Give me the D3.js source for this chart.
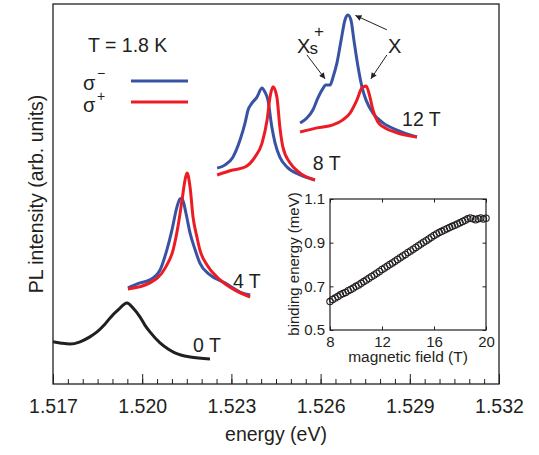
<!DOCTYPE html>
<html>
<head>
<meta charset="utf-8">
<script src="https://cdn.jsdelivr.net/npm/d3@7"></script>
<style>
  body { margin: 0; background: #fff; }
  svg { display: block; font-family: "Liberation Sans", Arial, Helvetica, sans-serif; }
  text { fill: #231f20; }
</style>
</head>
<body>
<svg id="chart" width="539" height="455"></svg>
<script>
// energy (eV) / intensity (arb. units, offset per field)
const e0T = [1.51700, 1.51724, 1.51757, 1.51791, 1.51824, 1.51848, 1.51872, 1.51892, 1.51919, 1.51949, 1.51969, 1.51993, 1.52009, 1.52026, 1.52060, 1.52087, 1.52110, 1.52161, 1.52228];
const i0T = [11.1, 10.8, 10.5, 11.1, 12.4, 13.7, 15.5, 17.4, 19.5, 21.3, 20.0, 17.6, 15.5, 13.7, 10.8, 9.2, 8.2, 7.1, 6.6];

const e4Tminus = [1.51952, 1.51993, 1.52026, 1.52060, 1.52083, 1.52100, 1.52117, 1.52127, 1.52134, 1.52147, 1.52161, 1.52178, 1.52194, 1.52228, 1.52278, 1.52329, 1.52363];
const i4Tminus = [25.3, 26.6, 27.4, 30.0, 35.3, 40.5, 46.6, 48.7, 48.9, 45.0, 39.7, 35.3, 31.8, 28.7, 26.6, 24.2, 23.4];
const e4Tplus = [1.51952, 1.52026, 1.52077, 1.52104, 1.52120, 1.52134, 1.52144, 1.52151, 1.52161, 1.52171, 1.52184, 1.52194, 1.52218, 1.52262, 1.52312, 1.52363];
const i4Tplus = [25.0, 26.6, 30.5, 35.3, 41.3, 48.4, 53.7, 55.5, 51.8, 43.9, 38.7, 35.3, 31.3, 27.4, 24.7, 22.9];

const e8Tminus = [1.52252, 1.52278, 1.52305, 1.52329, 1.52346, 1.52356, 1.52369, 1.52386, 1.52403, 1.52413, 1.52423, 1.52436, 1.52447, 1.52463, 1.52487, 1.52531, 1.52581];
const i8Tminus = [56.8, 57.6, 59.7, 64.2, 68.7, 72.1, 73.9, 75.5, 77.9, 76.8, 74.7, 67.6, 63.4, 59.7, 57.1, 55.0, 53.7];
const e8Tplus = [1.52252, 1.52305, 1.52346, 1.52379, 1.52403, 1.52420, 1.52430, 1.52440, 1.52453, 1.52463, 1.52473, 1.52497, 1.52531, 1.52581];
const i8Tplus = [55.0, 56.3, 57.1, 59.7, 63.4, 69.5, 75.5, 78.2, 75.5, 67.6, 62.4, 58.2, 55.5, 53.7];

const e12Tminus = [1.52531, 1.52554, 1.52574, 1.52591, 1.52605, 1.52618, 1.52632, 1.52642, 1.52655, 1.52669, 1.52682, 1.52692, 1.52702, 1.52712, 1.52726, 1.52739, 1.52753, 1.52776, 1.52810, 1.52857, 1.52924];
const i12Tminus = [68.7, 70.0, 72.1, 75.3, 77.4, 78.7, 78.7, 80.8, 84.5, 90.5, 95.8, 97.1, 95.8, 90.5, 83.4, 78.2, 74.7, 71.3, 68.7, 66.8, 65.0];
const e12Tplus = [1.52531, 1.52588, 1.52642, 1.52675, 1.52699, 1.52722, 1.52739, 1.52753, 1.52766, 1.52776, 1.52793, 1.52817, 1.52857, 1.52924];
const i12Tplus = [66.3, 67.4, 68.2, 69.5, 71.3, 74.7, 77.9, 78.4, 75.5, 72.1, 68.9, 67.4, 66.1, 65.0];

const energyTicks = [1.517, 1.520, 1.523, 1.526, 1.529, 1.532];

// inset: binding energy vs magnetic field
const field = [8.0, 8.2, 8.4, 8.6, 8.8, 9.0, 9.2, 9.4, 9.6, 9.8, 10.0, 10.2, 10.4, 10.6, 10.8, 11.0, 11.2, 11.4, 11.6, 11.8, 12.0, 12.2, 12.4, 12.6, 12.8, 13.0, 13.2, 13.4, 13.6, 13.8, 14.0, 14.2, 14.4, 14.6, 14.8, 15.0, 15.2, 15.4, 15.6, 15.8, 16.0, 16.2, 16.4, 16.6, 16.8, 17.0, 17.2, 17.4, 17.6, 17.8, 18.0, 18.2, 18.4, 18.6, 18.8, 19.0, 19.2, 19.4, 19.6, 19.8, 20.0];
const binding = [0.630, 0.640, 0.646, 0.653, 0.661, 0.667, 0.672, 0.680, 0.686, 0.692, 0.700, 0.706, 0.714, 0.722, 0.729, 0.737, 0.745, 0.752, 0.760, 0.768, 0.777, 0.784, 0.792, 0.800, 0.807, 0.815, 0.823, 0.831, 0.839, 0.846, 0.855, 0.862, 0.870, 0.878, 0.886, 0.894, 0.902, 0.909, 0.917, 0.925, 0.933, 0.940, 0.946, 0.952, 0.958, 0.964, 0.969, 0.975, 0.980, 0.985, 0.991, 0.997, 1.003, 1.009, 1.013, 1.010, 1.005, 1.009, 1.013, 1.008, 1.012];
const fieldTicks = [8, 12, 16, 20];
const bindingTicks = [0.5, 0.7, 0.9, 1.1];

const BLUE = "#3953a4", RED = "#ed1c24", INK = "#231f20";

const svg = d3.select("#chart");
const margin = {top: 4, right: 40, bottom: 71, left: 53};
const width = 539 - margin.left - margin.right;
const height = 455 - margin.top - margin.bottom;

const x = d3.scaleLinear().domain([1.517, 1.532]).range([margin.left, margin.left + width]);
const y = d3.scaleLinear().domain([0, 100]).range([margin.top + height, margin.top]);

// minor + major ticks, pointing inward
svg.append("g")
    .attr("transform", `translate(0,${margin.top + height})`)
    .call(d3.axisBottom(x).tickValues(d3.range(0, 31).map(i => 1.517 + i * 0.0005)).tickSize(-5).tickFormat(""))
    .call(g => g.select(".domain").remove())
    .selectAll("line").attr("stroke", INK).attr("stroke-width", 1);

svg.append("g")
    .attr("transform", `translate(0,${margin.top + height})`)
    .call(d3.axisBottom(x).tickValues(energyTicks).tickSize(-10).tickPadding(15).tickFormat(d3.format(".3f")))
    .call(g => g.select(".domain").remove())
    .call(g => g.selectAll("line").attr("stroke", INK).attr("stroke-width", 1))
    .call(g => g.selectAll("text").attr("fill", INK).style("font-size", "19.5px").style("font-family", null));

svg.append("rect")
    .attr("x", margin.left).attr("y", margin.top)
    .attr("width", width).attr("height", height)
    .attr("fill", "none").attr("stroke", INK).attr("stroke-width", 1.3);

svg.append("text")
    .attr("x", margin.left + width / 2).attr("y", 441)
    .attr("text-anchor", "middle").style("font-size", "19.5px")
    .text("energy (eV)");

svg.append("text")
    .attr("transform", `translate(43,${margin.top + height / 2}) rotate(-90)`)
    .attr("text-anchor", "middle").style("font-size", "19.5px")
    .text("PL intensity (arb. units)");

const line = d3.line()
    .x(d => x(d[0]))
    .y(d => y(d[1]))
    .curve(d3.curveMonotoneX);

const spectra = [
  [e0T, i0T, INK],
  [e4Tminus, i4Tminus, BLUE], [e4Tplus, i4Tplus, RED],
  [e8Tminus, i8Tminus, BLUE], [e8Tplus, i8Tplus, RED],
  [e12Tminus, i12Tminus, BLUE], [e12Tplus, i12Tplus, RED]
];

spectra.forEach(([ex, iy, col]) => {
  svg.append("path")
      .datum(ex.map((e, k) => [e, iy[k]]))
      .attr("fill", "none")
      .attr("stroke", col)
      .attr("stroke-width", 3)
      .attr("stroke-linejoin", "round")
      .attr("d", line);
});

// field labels
const fieldLabels = [["0 T", 1.52171, 8.4], ["4 T", 1.52305, 25.3], ["8 T", 1.52574, 56.3], ["12 T", 1.52874, 67.9]];
fieldLabels.forEach(([t, e, v]) => {
  svg.append("text").attr("x", x(e)).attr("y", y(v)).style("font-size", "19.5px").text(t);
});

// legend
svg.append("text").attr("x", 88).attr("y", 52).style("font-size", "19.5px").text("T = 1.8 K");
svg.append("text").attr("x", 83).attr("y", 90).style("font-size", "20px").text("σ");
svg.append("text").attr("x", 97).attr("y", 78).style("font-size", "14px").text("−");
svg.append("text").attr("x", 83).attr("y", 112).style("font-size", "20px").text("σ");
svg.append("text").attr("x", 97).attr("y", 101).style("font-size", "14px").text("+");
svg.append("line").attr("x1", 131).attr("x2", 188).attr("y1", 81).attr("y2", 81).attr("stroke", BLUE).attr("stroke-width", 3);
svg.append("line").attr("x1", 131).attr("x2", 188).attr("y1", 102).attr("y2", 102).attr("stroke", RED).attr("stroke-width", 3);

// peak annotations
svg.append("defs").append("marker")
    .attr("id", "arr").attr("viewBox", "0 0 10 10")
    .attr("refX", 10).attr("refY", 5)
    .attr("markerWidth", 8).attr("markerHeight", 6)
    .attr("markerUnits", "userSpaceOnUse")
    .attr("orient", "auto")
  .append("path").attr("d", "M0,0L10,5L0,10z").attr("fill", INK);

const arrows = [
  [1.52554, 86.6, 1.52615, 80.3],
  [1.52823, 93.2, 1.52717, 97.0],
  [1.52823, 86.6, 1.52769, 80.3]
];
arrows.forEach(([e1, v1, e2, v2]) => {
  svg.append("line")
      .attr("x1", x(e1)).attr("y1", y(v1))
      .attr("x2", x(e2)).attr("y2", y(v2))
      .attr("stroke", INK).attr("stroke-width", 1)
      .attr("marker-end", "url(#arr)");
});

const xs = svg.append("text").attr("x", x(1.52521)).attr("y", y(87.1)).style("font-size", "20px");
xs.append("tspan").text("X");
xs.append("tspan").attr("dx", -1).attr("dy", 1).style("font-size", "17px").text("s");
svg.append("text").attr("x", x(1.52521) + 17).attr("y", y(87.1) - 16).style("font-size", "17px").text("+");
svg.append("text").attr("x", x(1.52827)).attr("y", y(87.1)).style("font-size", "20px").text("X");

// inset
const ix = d3.scaleLinear().domain([8, 20]).range([330, 486]);
const iy = d3.scaleLinear().domain([0.5, 1.1]).range([330, 199]);
const inset = svg.append("g");

inset.append("rect").attr("x", 330).attr("y", 199).attr("width", 156).attr("height", 131).attr("fill", "#fff");

const tickStyle = g => {
  g.select(".domain").remove();
  g.selectAll("line").attr("stroke", INK).attr("stroke-width", 1);
  g.selectAll("text").attr("fill", INK).style("font-size", "15px").style("font-family", null);
};
inset.append("g").attr("transform", "translate(0,330)")
    .call(d3.axisBottom(ix).tickValues(fieldTicks).tickSize(-3.5).tickPadding(6)).call(tickStyle);
inset.append("g").attr("transform", "translate(0,199)")
    .call(d3.axisTop(ix).tickValues(fieldTicks).tickSize(-3.5).tickFormat("")).call(tickStyle);
inset.append("g").attr("transform", "translate(330,0)")
    .call(d3.axisLeft(iy).tickValues(bindingTicks).tickSize(-3.5).tickPadding(5).tickFormat(d3.format(".1f"))).call(tickStyle);
inset.append("g").attr("transform", "translate(486,0)")
    .call(d3.axisRight(iy).tickValues(bindingTicks).tickSize(-3.5).tickFormat("")).call(tickStyle);

inset.selectAll("circle.pt")
    .data(field.map((b, k) => [b, binding[k]]))
    .join("circle")
    .attr("class", "pt")
    .attr("cx", d => ix(d[0]))
    .attr("cy", d => iy(d[1]))
    .attr("r", 3.2)
    .attr("fill", "none")
    .attr("stroke", INK)
    .attr("stroke-width", 1.1);

inset.append("rect").attr("x", 330).attr("y", 199).attr("width", 156).attr("height", 131)
    .attr("fill", "none").attr("stroke", INK).attr("stroke-width", 1.2);

inset.append("text").attr("x", 408).attr("y", 362).attr("text-anchor", "middle")
    .style("font-size", "15.5px").text("magnetic field (T)");
inset.append("text").attr("transform", "translate(299,264) rotate(-90)").attr("text-anchor", "middle")
    .style("font-size", "15px").text("binding energy (meV)");
</script>
</body>
</html>
